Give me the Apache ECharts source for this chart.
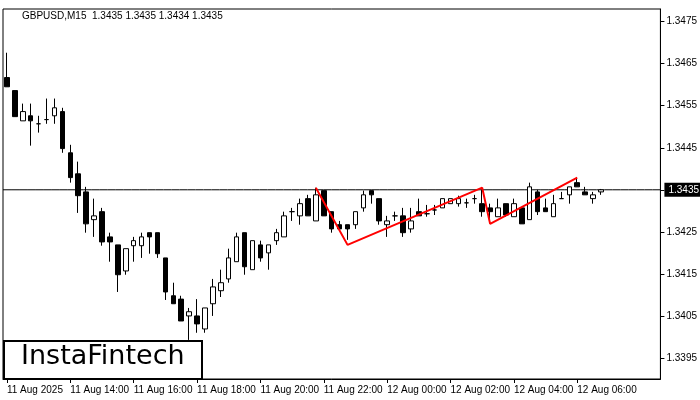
<!DOCTYPE html>
<html><head><meta charset="utf-8">
<script src="https://cdn.jsdelivr.net/npm/echarts@6/dist/echarts.min.js"></script>
<style>html,body{margin:0;padding:0;background:#fff}#c{width:700px;height:400px}</style>
</head><body><div id="c"></div>
<script>
const startHour = 12; // 11 Aug 12:00 first bar
const candles = [ // [open, close, low, high]
[1.34617,1.34595,1.34595,1.34676],[1.34586,1.34524,1.34524,1.34586],[1.34514,1.34536,1.34514,1.34555],
[1.34526,1.34514,1.34455,1.34555],[1.34507,1.34507,1.34486,1.34526],[1.34517,1.34517,1.34507,1.34567],
[1.34526,1.34545,1.34507,1.34567],[1.34536,1.34448,1.34438,1.34545],[1.34438,1.34379,1.34367,1.34457],
[1.34388,1.34336,1.34295,1.34417],[1.34345,1.34269,1.34248,1.34357],[1.34279,1.34288,1.34238,1.34329],
[1.34298,1.34226,1.34217,1.34307],[1.34238,1.34226,1.34179,1.34248],[1.34219,1.34148,1.34107,1.34219],
[1.34157,1.34210,1.34148,1.34210],[1.34217,1.34229,1.34179,1.34238],[1.34217,1.34238,1.34188,1.34248],
[1.34248,1.34238,1.34198,1.34248],[1.34248,1.34198,1.34188,1.34248],[1.34188,1.34107,1.34088,1.34188],
[1.34098,1.34079,1.34079,1.34129],[1.34090,1.34038,1.34038,1.34098],[1.34050,1.34060,1.33993,1.34069],
[1.34050,1.34031,1.34010,1.34090],[1.34019,1.34069,1.34010,1.34069],[1.34079,1.34119,1.34050,1.34138],
[1.34110,1.34129,1.34095,1.34160],[1.34138,1.34188,1.34129,1.34210],[1.34179,1.34238,1.34179,1.34248],
[1.34248,1.34167,1.34148,1.34248],[1.34160,1.34229,1.34160,1.34229],[1.34219,1.34188,1.34179,1.34229],
[1.34200,1.34219,1.34160,1.34219],[1.34229,1.34248,1.34219,1.34257],[1.34238,1.34288,1.34238,1.34298],
[1.34298,1.34298,1.34276,1.34307],[1.34288,1.34317,1.34267,1.34329],[1.34329,1.34288,1.34288,1.34338],
[1.34276,1.34338,1.34276,1.34355],[1.34348,1.34288,1.34288,1.34348],[1.34298,1.34257,1.34248,1.34298],
[1.34267,1.34257,1.34257,1.34276],[1.34267,1.34257,1.34231,1.34267],[1.34267,1.34298,1.34257,1.34298],
[1.34307,1.34338,1.34298,1.34348],[1.34348,1.34338,1.34317,1.34348],[1.34329,1.34276,1.34267,1.34329],
[1.34267,1.34276,1.34238,1.34288],[1.34288,1.34288,1.34276,1.34298],[1.34288,1.34248,1.34238,1.34307],
[1.34257,1.34276,1.34248,1.34307],[1.34298,1.34288,1.34288,1.34329],[1.34293,1.34293,1.34286,1.34314],
[1.34302,1.34302,1.34290,1.34314],[1.34307,1.34329,1.34307,1.34329],[1.34317,1.34329,1.34317,1.34329],
[1.34317,1.34329,1.34310,1.34336],[1.34319,1.34319,1.34307,1.34329],[1.34329,1.34329,1.34317,1.34338],
[1.34317,1.34298,1.34286,1.34350],[1.34307,1.34298,1.34271,1.34317],[1.34286,1.34307,1.34286,1.34329],
[1.34317,1.34290,1.34286,1.34317],[1.34286,1.34317,1.34286,1.34329],[1.34307,1.34269,1.34269,1.34307],
[1.34279,1.34357,1.34279,1.34367],[1.34345,1.34298,1.34290,1.34350],[1.34307,1.34298,1.34298,1.34329],
[1.34286,1.34317,1.34286,1.34338],[1.34329,1.34329,1.34329,1.34345],[1.34338,1.34357,1.34317,1.34357],
[1.34367,1.34357,1.34357,1.34379],[1.34345,1.34338,1.34338,1.34357],[1.34329,1.34338,1.34317,1.34345],
[1.34345,1.34350,1.34338,1.34352]
];
const patternIdx = [39, 43, 60, 61, 72];
const patternVal = [1.34355, 1.34219, 1.34355, 1.34269, 1.34379];
const priceTicks = [1.3395,1.3405,1.3415,1.3425,1.3435,1.3445,1.3455,1.3465,1.3475];
const currentPrice = 1.3435;
const titleText = 'GBPUSD,M15  1.3435 1.3435 1.3434 1.3435';
const totalSlots = 83;
const FONT = 'Liberation Sans';

const cats = [], labelMap = {};
for (let i = 0; i < totalSlots; i++) {
  const mins = startHour*60 + i*15;
  const day = 11 + Math.floor(mins/1440);
  const m = mins % 1440;
  const hh = String(Math.floor(m/60)).padStart(2,'0'), mm = String(m%60).padStart(2,'0');
  cats.push(String(i));
  if (i % 8 === 0 && i <= 72) labelMap[i] = (i === 0) ? '11 Aug 2025' : `${day} Aug ${hh}:${mm}`;
}
const ohlc = candles.map(c => [c[0], c[1], c[2], c[3]]);
const pattern = new Array(totalSlots).fill(null);
patternIdx.forEach((k, j) => pattern[k] = patternVal[j]);
const currentLine = new Array(totalSlots).fill(currentPrice);
const showTick = (i) => labelMap[i] !== undefined;

const chart = echarts.init(document.getElementById('c'));
chart.setOption({
  animation: false,
  backgroundColor: '#fff',
  textStyle: {fontFamily: FONT},
  title: {text: titleText, left: 17, top: 6, textStyle: {fontSize: 10, fontWeight: 'normal', color: '#000', fontFamily: FONT}},
  grid: {left: 3, right: 38, top: 9, bottom: 21, show: true, borderColor: '#000', borderWidth: 1},
  xAxis: [{
    type: 'category', data: cats, boundaryGap: true,
    axisLine: {lineStyle: {color: '#000'}},
    axisTick: {show: true, alignWithLabel: true, length: 4, interval: showTick, lineStyle: {color: '#000'}},
    axisLabel: {interval: showTick, showMinLabel: true, hideOverlap: false, formatter: (v, i) => labelMap[i] || '', align: 'left', fontSize: 10, color: '#000', margin: 6, fontFamily: FONT},
    splitLine: {show: false}
  }, {
    type: 'category', data: cats, boundaryGap: false, show: false
  }],
  yAxis: {
    type: 'value', position: 'right', min: 1.339, max: 1.3478,
    axisLine: {show: true, lineStyle: {color: '#000'}},
    axisTick: {show: true, customValues: priceTicks, length: 4, lineStyle: {color: '#000'}},
    axisLabel: {customValues: priceTicks, formatter: (v) => v.toFixed(4), fontSize: 10, color: '#000', margin: 6, fontFamily: FONT},
    splitLine: {show: false}
  },
  series: [
    {
      type: 'line', xAxisIndex: 1, data: currentLine, symbol: 'none', silent: true,
      lineStyle: {color: '#000', width: 1}, z: 2,
      endLabel: {show: true, formatter: currentPrice.toFixed(4), backgroundColor: '#000', color: '#fff', fontSize: 10, padding: [2, 4], distance: 4, fontFamily: FONT}
    },
    {
      type: 'candlestick', data: ohlc, barWidth: 5,
      itemStyle: {color: '#fff', color0: '#000', borderColor: '#000', borderColor0: '#000', borderWidth: 1},
      z: 3
    },
    {
      type: 'line', data: pattern, connectNulls: true, symbol: 'none',
      lineStyle: {color: '#ff0000', width: 2}, z: 5
    }
  ],
  graphic: [
    {type: 'rect', left: 3, top: 340, shape: {width: 198, height: 38}, style: {fill: '#fff', stroke: '#000', lineWidth: 2}, z: 100},
    {type: 'text', left: 21, top: 343, style: {text: 'InstaFintech', font: '27px "DejaVu Sans"', fill: '#000'}, z: 101}
  ]
});
</script></body></html>
